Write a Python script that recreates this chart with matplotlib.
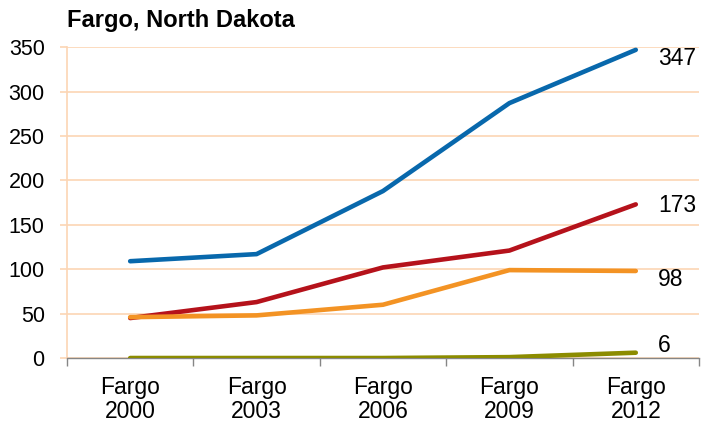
import numpy as np
import matplotlib.pyplot as plt

plt.rcParams['font.family'] = ['Liberation Sans', 'DejaVu Sans']

categories = ['Fargo\n2000', 'Fargo\n2003', 'Fargo\n2006', 'Fargo\n2009', 'Fargo\n2012']
blue_vals = [109, 117, 188, 287, 347]
red_vals = [45, 63, 102, 121, 173]
orange_vals = [46, 48, 60, 99, 98]
green_vals = [0, 0, 0, 1, 6]

# colour and vertical nudge (points) of the end label for each series
series = [
    (blue_vals, '#0868AC', -6),
    (red_vals, '#B5121B', -1),
    (orange_vals, '#F39324', -6),
    (green_vals, '#8C8C00', 5),
]

fig = plt.figure(figsize=(7.02, 4.25), dpi=100)
ax = fig.add_axes([0.0954, 0.1576, 0.9003, 0.7314])

x = np.arange(len(categories))
for vals, color, dy in series:
    ax.plot(x, vals, color=color, lw=3.3, solid_capstyle='round', zorder=3)
    ax.annotate(str(vals[-1]), (x[-1], vals[-1]), xytext=(16, dy),
                textcoords='offset points', va='center', ha='left',
                fontsize=16.5, color='black')

grid_c = '#FCD5B4'
ax.set_ylim(0, 350)
ax.set_xlim(-0.5, len(categories) - 0.5)
ax.set_yticks(np.arange(0, 351, 50))
ax.yaxis.grid(True, color=grid_c, lw=1.2)
ax.set_axisbelow(True)

ax.set_xticks(x)
ax.set_xticklabels(categories, fontsize=16.5, linespacing=1.05)
ax.set_xticks(np.arange(-0.5, len(categories), 1), minor=True)
ax.tick_params(axis='x', which='major', length=0, pad=13)
ax.tick_params(axis='x', which='minor', length=6, color='#868686', width=1)
ax.tick_params(axis='y', labelsize=15.5, length=5, color=grid_c, width=1.2, pad=11)

for s in ['top', 'right']:
    ax.spines[s].set_visible(False)
ax.spines['left'].set_color(grid_c)
ax.spines['left'].set_linewidth(1.2)
ax.spines['bottom'].set_color('#868686')
ax.spines['bottom'].set_linewidth(1)

fig.text(0.096, 0.952, 'Fargo, North Dakota', fontsize=17, fontweight='bold',
         ha='left', va='center')

fig.savefig('out.png', dpi=100)
